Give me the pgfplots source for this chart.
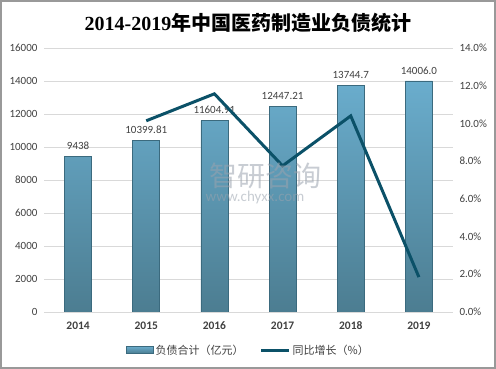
\documentclass[border=0pt]{standalone}
\usepackage{pgfplots}
\pgfplotsset{compat=1.18}
\usepackage{fontspec}
\setmainfont{Carlito}
\newfontfamily\cjk{Noto Sans CJK SC}
\newfontfamily\serifnum{Liberation Serif}
\definecolor{barTop}{HTML}{6AADCD}
\definecolor{barBot}{HTML}{4C7D91}
\definecolor{barEdge}{HTML}{3B6A7E}
\definecolor{lineC}{HTML}{0B5168}
\definecolor{txt}{HTML}{404040}
\definecolor{gridC}{HTML}{D9D9D9}
\definecolor{wm}{HTML}{9AA3AE}
\begin{document}
\begin{tikzpicture}[x=1pt,y=1pt]
\draw[gray!80, line width=1.6pt] (0.8,0.8) rectangle (495.2,368.2);
\node[font=\fontsize{20}{22}\selectfont\bfseries] at (248,346) {\serifnum 2014-2019\cjk 年中国医药制造业负债统计};
\begin{axis}[
  at={(44pt,57pt)}, anchor=south west,
  scale only axis, width=409pt, height=264pt,
  xmin=-0.5, xmax=5.5, ymin=0, ymax=16000,
  xtick={0,...,5}, xticklabels={2014,2015,2016,2017,2018,2019},
  ytick={0,2000,...,16000},
  scaled ticks=false,
  /pgf/number format/1000 sep={},
  /pgf/number format/assume math mode=true,
  ymajorgrids, grid style={gridC, line width=0.8pt},
  axis x line*=bottom, axis y line*=left,
  x axis line style={gridC, line width=0.8pt},
  y axis line style={draw=none},
  major tick length=0pt,
  tick label style={font=\fontsize{11}{12}\selectfont, text=txt},
  xticklabel style={font=\fontsize{11.5}{12}\selectfont\bfseries, yshift=-6pt},
  yticklabel style={xshift=-3pt},
  legend style={at={(0.5,-0.145)}, anchor=center, draw=none, legend columns=2,
    font=\cjk\fontsize{11}{12}\selectfont, text=txt,
    /tikz/every even column/.append style={column sep=14pt}},
  legend cell align=left,
]
\addplot[ybar, bar width=27pt, top color=barTop, bottom color=barBot, draw=barEdge, line width=0.6pt,
  point meta=explicit symbolic,
  nodes near coords={\pgfplotspointmeta},
  every node near coord/.append style={font=\fontsize{11}{12}\selectfont, text=txt, yshift=3pt},
  legend image code/.code={\draw[top color=barTop, bottom color=barBot, draw=barEdge] (0pt,-3pt) rectangle (27pt,4pt);}]
 coordinates {(0,9438) [9438] (1,10399.81) [10399.81] (2,11604.91) [11604.91] (3,12447.21) [12447.21] (4,13744.7) [13744.7] (5,14006.0) [14006.0]};
\addlegendentry{负债合计（亿元）}
\addlegendimage{lineC, line width=3pt, legend image code/.code={\draw[lineC, line width=3pt] (0pt,0pt) -- (28pt,0pt);}}
\addlegendentry{同比增长（\%）}
\end{axis}
\begin{axis}[
  at={(44pt,57pt)}, anchor=south west,
  scale only axis, width=409pt, height=264pt,
  xmin=-0.5, xmax=5.5, ymin=0, ymax=14,
  axis x line=none, axis y line*=right,
  y axis line style={draw=none},
  ytick={0,2,...,14},
  major tick length=0pt,
  /pgf/number format/assume math mode=true,
  yticklabel={\pgfmathprintnumber[fixed,fixed zerofill,precision=1]{\tick}\%},
  tick label style={font=\fontsize{11}{12}\selectfont, text=txt},
  yticklabel style={xshift=3pt},
]
\addplot[lineC, line width=3pt, line join=miter] coordinates {(1,10.14) (2,11.57) (3,7.75) (4,10.4) (5,1.85)};
\end{axis}
\node[font=\cjk\fontsize{28}{30}\selectfont, text=wm, opacity=0.55] at (265,193) {智研咨询};
\node[font=\fontsize{15}{16}\selectfont, text=wm, opacity=0.55] at (255,171) {www.chyxx.com};
\end{tikzpicture}
\end{document}
